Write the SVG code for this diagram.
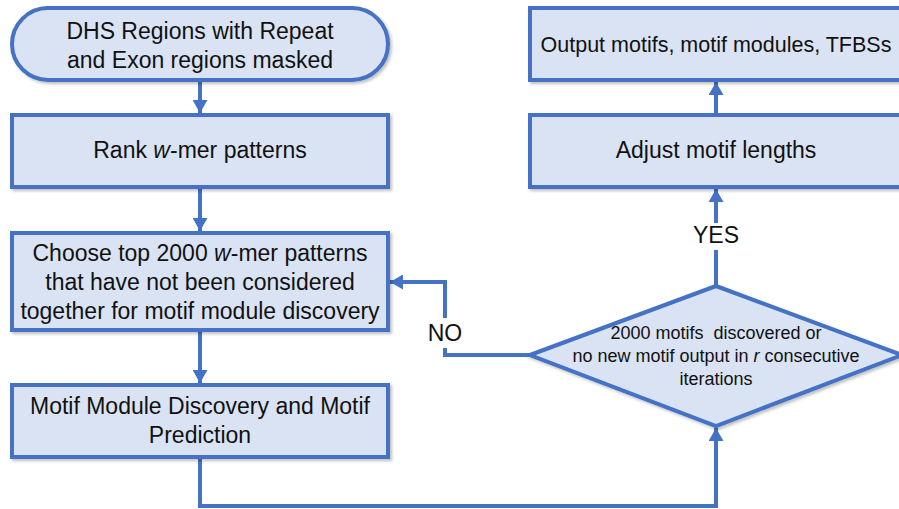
<svg xmlns="http://www.w3.org/2000/svg" width="899" height="509" viewBox="0 0 899 509">
<style>
.box{fill:#DAE3F3;stroke:#4472C4;stroke-width:4;filter:url(#sh)}
.t{font-family:"Liberation Sans",Arial,sans-serif;font-size:23px;fill:#111;text-anchor:middle}
.s{font-size:18px}
.o{font-size:21.5px}
.c{fill:none;stroke:#4472C4;stroke-width:4;marker-end:url(#ah)}
.lb{fill:#fff}
</style>
<defs>
<filter id="sh" x="-10%" y="-10%" width="120%" height="130%">
<feDropShadow dx="2" dy="2" stdDeviation="1.5" flood-color="#000" flood-opacity="0.25"/>
</filter>
<marker id="ah" markerUnits="userSpaceOnUse" markerWidth="14" markerHeight="15" refX="13" refY="7.5" orient="auto" viewBox="0 0 14 15">
<path d="M0,0 L13,7.5 L0,15 z" fill="#4472C4"/>
</marker>
</defs>
<g id="connectors">
<path class="c" d="M200,80 V113"/>
<path class="c" d="M200,187 V231"/>
<path class="c" d="M200,330 V383"/>
<path class="c" d="M200,457 V506 H716 V428"/>
<path class="c" d="M716,286 V189"/>
<path class="c" d="M716,115 V82"/>
<path class="c" d="M530,355 H445 V282 H390"/>
<rect class="lb" x="697" y="223" width="38" height="27"/>
<text class="t" x="716" y="243">YES</text>
<rect class="lb" x="426" y="318" width="38" height="30"/>
<text class="t" x="445" y="341">NO</text>
</g>
<g id="start">
<rect class="box" x="12" y="8" width="376" height="72" rx="36"/>
<text class="t" x="200" y="39">DHS Regions with Repeat</text>
<text class="t" x="200" y="68">and Exon regions masked</text>
</g>
<g id="rank">
<rect class="box" x="12" y="115" width="376" height="72"/>
<text class="t" x="200" y="158">Rank <tspan font-style="italic">w</tspan>-mer patterns</text>
</g>
<g id="choose">
<rect class="box" x="12" y="233" width="376" height="97"/>
<text class="t" x="200" y="261">Choose top 2000 <tspan font-style="italic">w</tspan>-mer patterns</text>
<text class="t" x="200" y="290">that have not been considered</text>
<text class="t" x="200" y="319">together for motif module discovery</text>
</g>
<g id="module">
<rect class="box" x="12" y="385" width="376" height="72"/>
<text class="t" x="200" y="414">Motif Module Discovery and Motif</text>
<text class="t" x="200" y="443">Prediction</text>
</g>
<g id="decision">
<polygon class="box" points="530,355 716,286 902,355 716,426"/>
<text class="t s" x="716" y="339">2000 motifs&#160; discovered or</text>
<text class="t s" x="716" y="362">no new motif output in <tspan font-style="italic">r</tspan> consecutive</text>
<text class="t s" x="716" y="385">iterations</text>
</g>
<g id="adjust">
<rect class="box" x="530" y="115" width="374" height="72"/>
<text class="t" x="716" y="158">Adjust motif lengths</text>
</g>
<g id="output">
<rect class="box" x="530" y="8" width="374" height="72"/>
<text class="t o" x="716" y="52">Output motifs, motif modules, TFBSs</text>
</g>
</svg>
